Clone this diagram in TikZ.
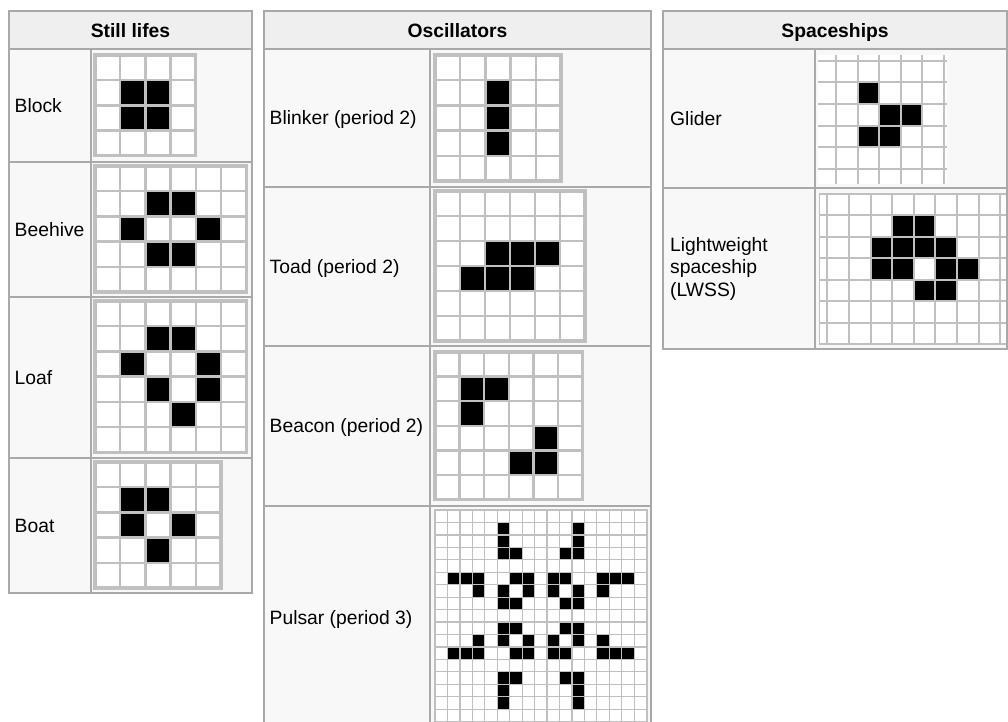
\documentclass[tikz,border=0pt]{standalone}
\usepackage{fontspec}
\setmainfont{Liberation Sans}
\usepackage{xcolor}
\usepackage{tikz}
\definecolor{rule}{HTML}{A9A9A9}
\definecolor{headbg}{HTML}{EFEFEF}
\definecolor{cellbg}{HTML}{F8F8F8}
\definecolor{gridgray}{HTML}{C0C0C0}

% x0, y0, columns, rows, cell size, line width, live cells (col/row)
\newcommand{\lifegrid}[7]{%
  \fill[white] (#1,#2) rectangle ++({#3*#5},{#4*#5});
  \foreach \cx/\cy in {#7}
    \fill[black] ({#1+\cx*#5},{#2+\cy*#5}) rectangle ++(#5,#5);
  \foreach \i in {0,...,#3}
    \draw[gridgray, line width=#6] ({#1+\i*#5},#2) -- ++(0,{#4*#5});
  \foreach \j in {0,...,#4}
    \draw[gridgray, line width=#6] (#1,{#2+\j*#5}) -- ++({#3*#5},0);
  \draw[gridgray, line width=#6+0.7pt] (#1,#2) rectangle ++({#3*#5},{#4*#5});
}

\begin{document}
\begin{tikzpicture}[
  x=1pt, y=-1pt,
  font=\fontsize{19.3}{22.5}\selectfont,
  headcell/.style={fill=headbg, draw=rule, line width=1.5pt},
  bodycell/.style={fill=cellbg, draw=rule, line width=1.5pt},
  headtext/.style={font=\fontsize{19.3}{22.5}\selectfont\bfseries, anchor=base, inner sep=0pt},
  rowname/.style={anchor=base west, inner sep=0pt},
  gridline/.style={gridgray, line width=2pt}
]
  \useasboundingbox[fill=white] (0,0) rectangle (1008,721);

  % Still lifes
  \draw[headcell] (9,11) rectangle (252,49);
  \foreach \top/\bot in {49/162, 162/297, 297/458, 458/593} {
    \draw[bodycell] (9,\top) rectangle (91,\bot);
    \draw[bodycell] (91,\top) rectangle (252,\bot);
  }
  \node[headtext] (still) at (130.5,37.5) {Still lifes};
  \node[rowname] (block) at (14.5,112) {Block};
  \node[rowname] (beehive) at (14.5,236) {Beehive};
  \node[rowname] (loaf) at (14.5,384) {Loaf};
  \node[rowname] (boat) at (14.5,532) {Boat};
  \lifegrid{95}{55}{4}{4}{25.2}{2.5pt}{1/1,2/1,1/2,2/2}
  \lifegrid{95}{166}{6}{5}{25.2}{2.5pt}{2/1,3/1,1/2,4/2,2/3,3/3}
  \lifegrid{95}{301}{6}{6}{25.2}{2.5pt}{2/1,3/1,1/2,4/2,2/3,4/3,3/4}
  \lifegrid{95}{462}{5}{5}{25.2}{2.5pt}{1/1,2/1,1/2,3/2,2/3}

  % Oscillators
  \draw[headcell] (264,11) rectangle (651,49);
  \foreach \top/\bot in {49/187, 187/346, 346/506, 506/730} {
    \draw[bodycell] (264,\top) rectangle (430,\bot);
    \draw[bodycell] (430,\top) rectangle (651,\bot);
  }
  \node[headtext] (osc) at (457.5,37.5) {Oscillators};
  \node[rowname] (blinker) at (269.5,124.5) {Blinker (period 2)};
  \node[rowname] (toad) at (269.5,273) {Toad (period 2)};
  \node[rowname] (beacon) at (269.5,432.5) {Beacon (period 2)};
  \node[rowname] (pulsar) at (269.5,624) {Pulsar (period 3)};
  \lifegrid{435}{55}{5}{5}{25.2}{2.5pt}{2/1,2/2,2/3}
  \lifegrid{435}{191}{6}{6}{25}{2.5pt}{2/2,3/2,4/2,1/3,2/3,3/3}
  \lifegrid{435}{352}{6}{6}{24.6}{2.5pt}{1/1,2/1,1/2,4/3,3/4,4/4}
  \lifegrid{435}{510}{17}{17}{12.45}{1.2pt}{5/1,11/1,5/2,11/2,5/3,6/3,10/3,11/3,
    1/5,2/5,3/5,6/5,7/5,9/5,10/5,13/5,14/5,15/5,
    3/6,5/6,7/6,9/6,11/6,13/6, 5/7,6/7,10/7,11/7,
    5/9,6/9,10/9,11/9, 3/10,5/10,7/10,9/10,11/10,13/10,
    1/11,2/11,3/11,6/11,7/11,9/11,10/11,13/11,14/11,15/11,
    5/13,6/13,10/13,11/13,5/14,11/14,5/15,11/15}

  % Spaceships
  \draw[headcell] (663,11) rectangle (1007,49);
  \foreach \top/\bot in {49/188, 188/349} {
    \draw[bodycell] (663,\top) rectangle (815,\bot);
    \draw[bodycell] (815,\top) rectangle (1007,\bot);
  }
  \node[headtext] (ships) at (835,37.5) {Spaceships};
  \node[rowname] (glider) at (670,125) {Glider};
  \node[anchor=west, inner sep=0pt, align=left] (lwss) at (670,268.5)
    {Lightweight\\spaceship\\(LWSS)};

  \fill[white] (818,55) rectangle (947,184);
  \foreach \cx/\cy in {1/1,2/2,3/2,1/3,2/3}
    \fill[black] ({836+\cx*21.6},{60.7+\cy*21.6}) rectangle ++(21.6,21.6);
  \foreach \i in {0,...,5}
    \draw[gridline] ({836+\i*21.6},55) -- ({836+\i*21.6},184);
  \foreach \j in {0,...,5}
    \draw[gridline] (818,{60.7+\j*21.6}) -- (947,{60.7+\j*21.6});

  \fill[white] (819,194) rectangle (1006,344);
  \foreach \cx/\cy in {3/1,4/1,2/2,3/2,4/2,5/2,2/3,3/3,5/3,6/3,4/4,5/4}
    \fill[black] ({827.3+\cx*21.6},{194+\cy*21.43}) rectangle ++(21.6,21.43);
  \draw[gridgray, line width=1pt] (819,194) -- (819,344);
  \foreach \i in {0,...,8}
    \draw[gridline] ({827.3+\i*21.6},194) -- ({827.3+\i*21.6},344);
  \foreach \j in {0,...,7}
    \draw[gridline] (819,{194+\j*21.43}) -- (1006,{194+\j*21.43});
\end{tikzpicture}
\end{document}
